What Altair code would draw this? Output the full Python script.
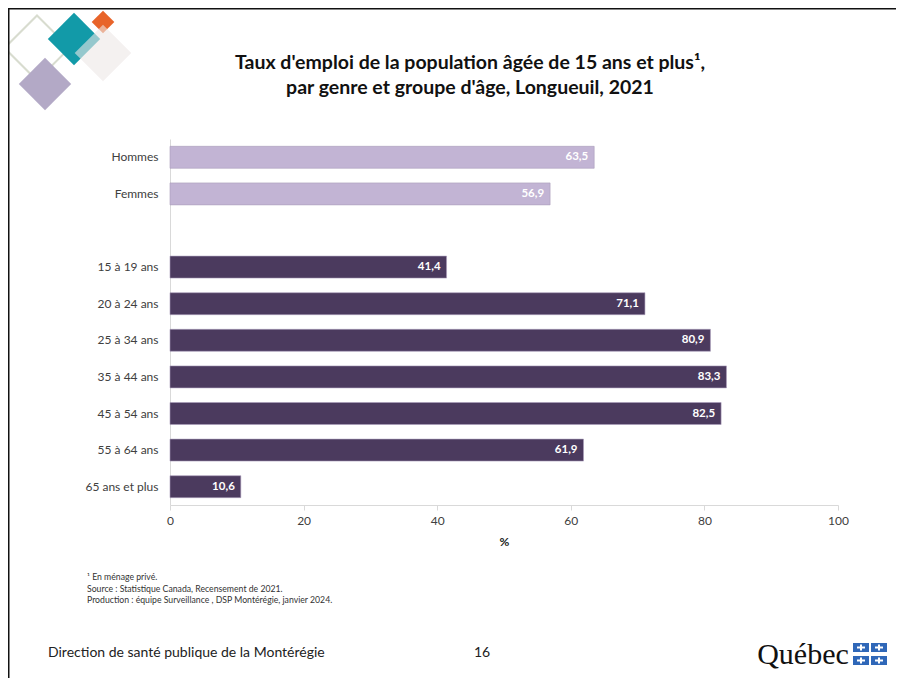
import altair as alt
import pandas as pd

# ---- data ----
categories = ["Hommes", "Femmes", "15 à 19 ans", "20 à 24 ans", "25 à 34 ans",
              "35 à 44 ans", "45 à 54 ans", "55 à 64 ans", "65 ans et plus"]
values = [63.5, 56.9, 41.4, 71.1, 80.9, 83.3, 82.5, 61.9, 10.6]
groups = ["genre", "genre", "age", "age", "age", "age", "age", "age", "age"]
y_domain = ["Hommes", "Femmes", " ", "15 à 19 ans", "20 à 24 ans", "25 à 34 ans",
            "35 à 44 ans", "45 à 54 ans", "55 à 64 ans", "65 ans et plus"]
x_ticks = [0, 20, 40, 60, 80, 100]

title_lines = ["Taux d'emploi de la population âgée de 15 ans et plus¹,",
               "par genre et groupe d'âge, Longueuil, 2021"]
notes = ["¹ En ménage privé.",
         "Source : Statistique Canada, Recensement de 2021.",
         "Production : équipe Surveillance , DSP Montérégie, janvier 2024."]
footer_left = "Direction de santé publique de la Montérégie"
page_number = "16"

df = pd.DataFrame({"cat": categories, "val": values, "grp": groups})
df["label"] = [f"{v:.1f}".replace(".", ",") for v in values]

FONT = "Lato"
W, H = 668, 366
PL, PT = 162, 131  # plot origin in chart coords (page x=170, y=139)


def px(page_x):
    return page_x - 170


def py(page_y):
    return page_y - 139


one = alt.Data(values=[{}])

y_enc = alt.Y("cat:N", scale=alt.Scale(domain=y_domain, paddingInner=0.4, paddingOuter=0.2),
              axis=alt.Axis(title=None, ticks=False, domainColor="#d9d9d9", labelColor="#404040",
                            labelFontSize=12, labelPadding=12, labelFont=FONT))
x_enc = alt.X("val:Q", scale=alt.Scale(domain=[0, 100], nice=False),
              axis=alt.Axis(title="%", values=x_ticks, grid=False, domainColor="#d9d9d9",
                            tickColor="#d9d9d9", tickSize=5, labelColor="#404040",
                            labelFontSize=12, labelPadding=5, labelFont=FONT, labelFlush=False,
                            titleFont=FONT, titleFontSize=12, titleFontWeight="bold",
                            titleColor="#222222", titlePadding=10))

base = alt.Chart(df)
bars = base.mark_bar(stroke="#a99cba", strokeWidth=0.6).encode(
    x=x_enc, y=y_enc,
    color=alt.Color("grp:N", scale=alt.Scale(domain=["genre", "age"], range=["#c2b4d4", "#4b3a5e"]),
                    legend=None))
labels = base.mark_text(align="right", baseline="middle", dx=-6, color="white",
                        font=FONT, fontSize=11.5, fontWeight="bold").encode(
    x="val:Q", y=alt.Y("cat:N", scale=alt.Scale(domain=y_domain)), text="label:N")


def txt(s, x, y, size, weight="normal", align="left", color="#222222", font=FONT):
    return alt.Chart(one).mark_text(align=align, baseline="middle", fontSize=size,
                                    fontWeight=weight, color=color, font=font).encode(
        x=alt.value(px(x)), y=alt.value(py(y)), text=alt.value(s))


def diamond(cx, cy, side, color, filled=True, opacity=1.0):
    m = alt.Chart(one).mark_square(angle=45, size=side * side, filled=filled,
                                   opacity=opacity,
                                   **({"color": color} if filled else {"stroke": color, "strokeWidth": 2, "fill": None}))
    return m.encode(x=alt.value(px(cx)), y=alt.value(py(cy)))


def rect(x1, y1, x2, y2, color):
    return alt.Chart(one).mark_rect(color=color).encode(
        x=alt.value(px(x1)), x2=alt.value(px(x2)), y=alt.value(py(y1)), y2=alt.value(py(y2)))


layers = [bars, labels]
# title
layers.append(txt(title_lines[0], 470, 63, 19.5, "bold", "center", "#111111"))
layers.append(txt(title_lines[1], 470, 88, 19.5, "bold", "center", "#111111"))
# notes
for i, n in enumerate(notes):
    layers.append(txt(n, 87, 577 + i * 11.5, 8.7, color="#333333"))
# footer
layers.append(txt(footer_left, 48, 653, 14, color="#222222"))
layers.append(txt(page_number, 482, 653, 14, align="center", color="#222222"))
layers.append(txt("Québec", 803, 655, 30, align="center", color="#111111", font="Liberation Serif"))
# flag blocks
for (x1, y1) in [(853, 643), (871, 643), (853, 656), (871, 656)]:
    layers.append(rect(x1, y1, x1 + 16, y1 + 9, "#2f67b8"))
    layers.append(rect(x1 + 7, y1 + 1.5, x1 + 9, y1 + 7.5, "white"))
    layers.append(rect(x1 + 4, y1 + 3.5, x1 + 12, y1 + 5.5, "white"))
# logo diamonds
layers.append(diamond(37, 48, 46, "#d8dccf", filled=False))
layers.append(diamond(45, 84, 37, "#b3a9c6"))
layers.append(diamond(74, 39, 37, "#129aa8"))
layers.append(diamond(103, 22, 16, "#e8642a"))
layers.append(diamond(103, 53, 40, "#ece8e6", opacity=0.6))
# slide border
layers.append(rect(8, 7.5, 904, 9.5, "#111111"))
layers.append(rect(7.5, 8, 9.5, 690, "#111111"))

chart = alt.layer(*layers).properties(
    width=W, height=H,
    autosize=alt.AutoSizeParams(type="none"),
    padding={"left": PL, "top": PT, "right": 58, "bottom": 173},
    background="white",
).configure_view(stroke=None)

chart.save("out.html", embed_options={"renderer": "svg", "actions": False})
